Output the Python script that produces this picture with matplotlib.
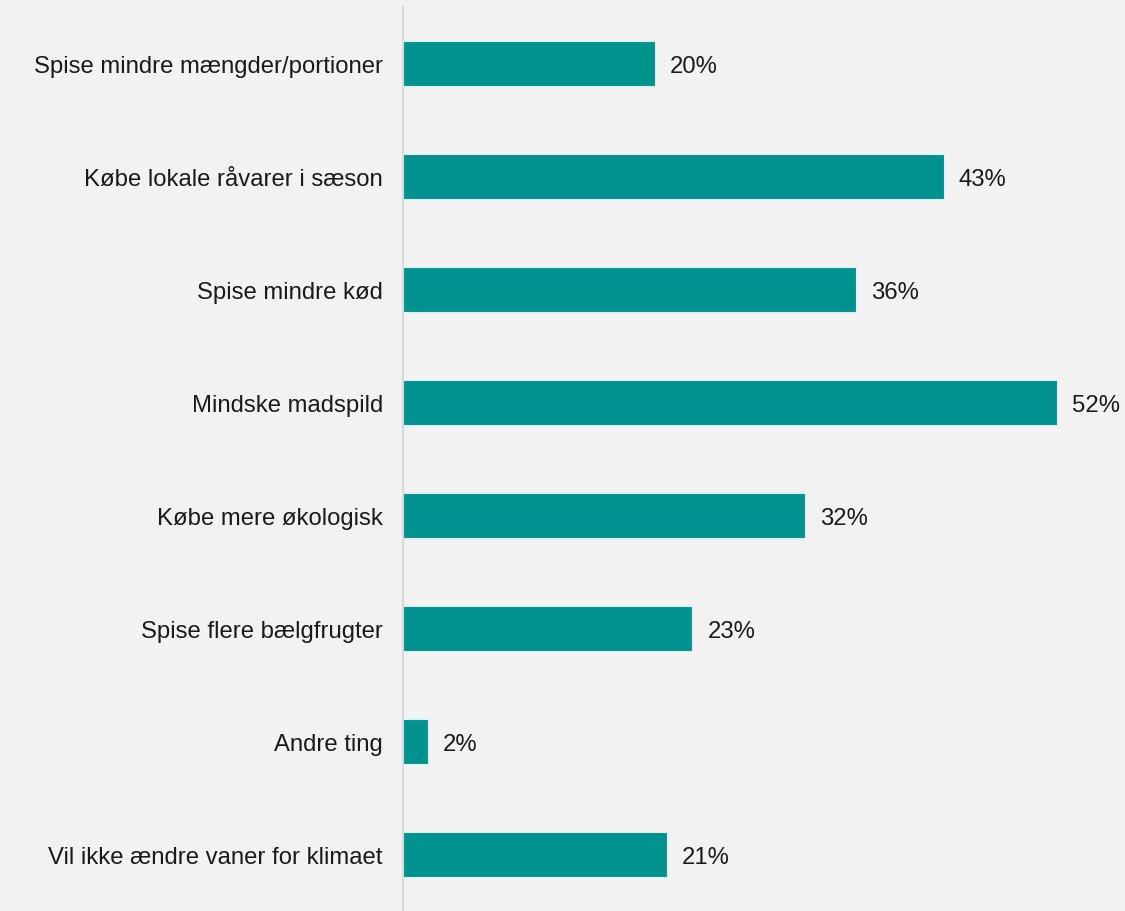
import matplotlib.pyplot as plt

categories = [
    "Spise mindre mængder/portioner",
    "Købe lokale råvarer i sæson",
    "Spise mindre kød",
    "Mindske madspild",
    "Købe mere økologisk",
    "Spise flere bælgfrugter",
    "Andre ting",
    "Vil ikke ændre vaner for klimaet",
]
values = [20, 43, 36, 52, 32, 23, 2, 21]

bg = "#f2f2f2"
bar_color = "#00928e"

plt.rcParams["font.family"] = ["Liberation Sans", "DejaVu Sans"]

fig = plt.figure(figsize=(11.25, 9.12), dpi=100, facecolor=bg)
ax = fig.add_axes([403 / 1125, 0.0, 1 - 403 / 1125, 1 - 8 / 912])
ax.set_facecolor(bg)

y = list(range(len(categories)))
ax.barh(y, values, height=0.40, color=bar_color, edgecolor="#d9eeee", linewidth=0.8)

for yi, v in zip(y, values):
    ax.text(v + 1.2, yi, f"{v}%", va="center_baseline", ha="left",
            fontsize=17.2, color="#1a1a1a")

ax.set_ylim(len(categories) - 0.5, -0.5)
ax.set_xlim(0, 52 * (1125 - 403) / 654)
ax.set_yticks(y)
ax.set_yticklabels(categories, fontsize=17.2, color="#1a1a1a")
ax.tick_params(axis="y", length=0, pad=14.5)
ax.set_xticks([])

for side in ["top", "right", "bottom"]:
    ax.spines[side].set_visible(False)
ax.spines["left"].set_color("#d9d9d9")
ax.spines["left"].set_linewidth(1.5)

fig.savefig("out.png", dpi=100, facecolor=bg)
